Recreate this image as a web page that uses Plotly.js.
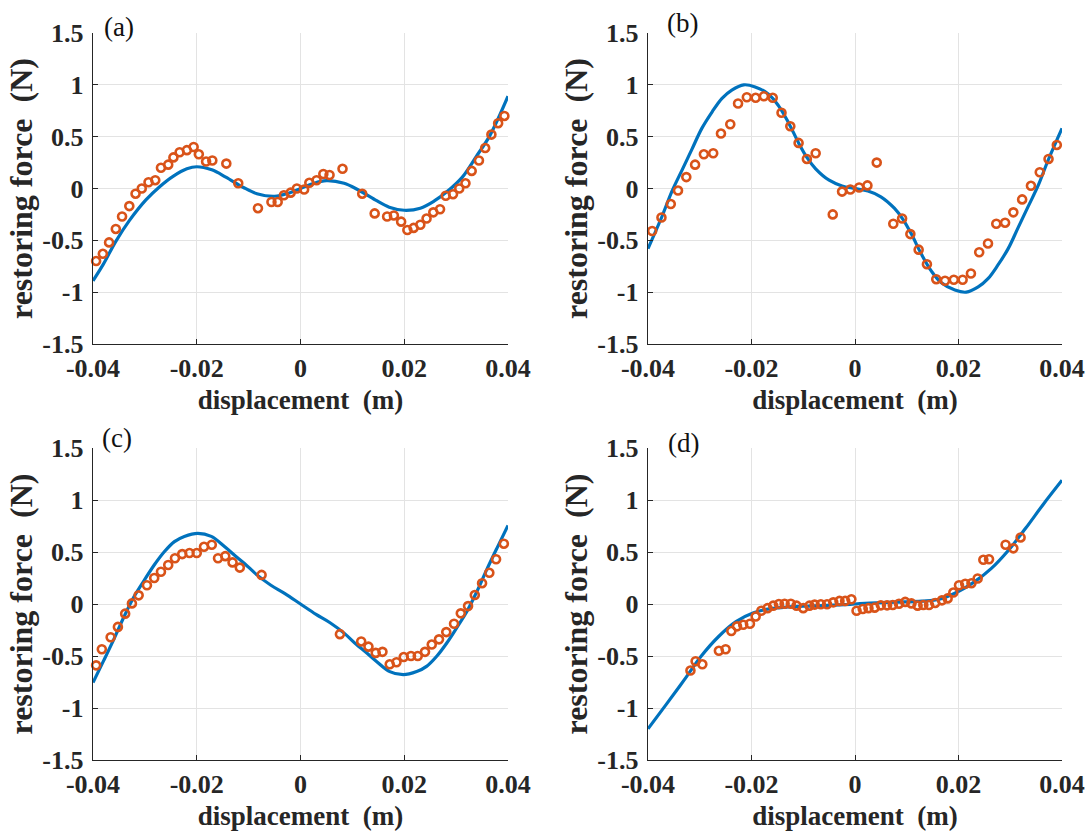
<!DOCTYPE html>
<html>
<head>
<meta charset="utf-8">
<script src="https://cdn.plot.ly/plotly-3.0.1.min.js"></script>
<style>
  html, body { margin: 0; padding: 0; background: #fff; }
  #chart { width: 1090px; height: 836px; }
</style>
</head>
<body>
<div id="chart"></div>
<script>
// ---------------- data ----------------
const xTickVals = [-0.04, -0.02, 0, 0.02, 0.04];
const xTickText = ["-0.04", "-0.02", "0", "0.02", "0.04"];
const yTickVals = [-1.5, -1, -0.5, 0, 0.5, 1, 1.5];
const yTickText = ["-1.5", "-1", "-0.5", "0", "0.5", "1", "1.5"];
const panelLabels = ["(a)", "(b)", "(c)", "(d)"];
const xTitle = "displacement\u00a0 (m)";
const yTitle = "restoring force\u00a0 (N)";

// panel (a)
const aMeasX = [-0.0394,-0.0381,-0.0369,-0.0356,-0.0344,-0.0330,-0.0318,-0.0306,-0.0293,-0.0280,-0.0269,-0.0255,-0.0245,-0.0233,-0.0219,-0.0206,-0.0196,-0.0182,-0.0170,-0.0143,-0.0120,-0.0082,-0.0056,-0.0044,-0.0032,-0.0019,-0.0007,0.0007,0.0017,0.0031,0.0044,0.0056,0.0081,0.0119,0.0143,0.0167,0.0180,0.0194,0.0206,0.0218,0.0231,0.0243,0.0256,0.0269,0.0280,0.0294,0.0306,0.0318,0.0330,0.0344,0.0356,0.0368,0.0381,0.0393];
const aMeasY = [-0.70,-0.63,-0.52,-0.39,-0.27,-0.17,-0.05,0.00,0.06,0.08,0.20,0.23,0.30,0.35,0.37,0.40,0.33,0.26,0.27,0.24,0.05,-0.19,-0.13,-0.13,-0.065,-0.04,0.00,-0.01,0.055,0.08,0.14,0.13,0.19,-0.05,-0.24,-0.27,-0.26,-0.32,-0.40,-0.38,-0.35,-0.29,-0.23,-0.20,-0.07,-0.055,0.00,0.05,0.17,0.27,0.39,0.52,0.63,0.70];
const aFitX = [-0.04,-0.038,-0.0356,-0.033,-0.0298,-0.0271,-0.0245,-0.0219,-0.02,-0.0171,-0.0144,-0.011,-0.0084,-0.005,-0.0023,0,0.0023,0.005,0.0084,0.011,0.0144,0.0171,0.02,0.0231,0.0258,0.0285,0.0312,0.0339,0.0365,0.04];
const aFitY = [-0.89,-0.73,-0.51,-0.31,-0.11,0.02,0.12,0.19,0.21,0.18,0.11,0.01,-0.05,-0.075,-0.045,0.0,0.045,0.075,0.05,-0.01,-0.11,-0.18,-0.21,-0.19,-0.12,-0.02,0.11,0.31,0.51,0.89];

// panel (b)
const bMeasX = [-0.0392,-0.0374,-0.0356,-0.0342,-0.0326,-0.0309,-0.0292,-0.0274,-0.0259,-0.0241,-0.0226,-0.0209,-0.0192,-0.0176,-0.0159,-0.0142,-0.0125,-0.0109,-0.0093,-0.0076,-0.0043,-0.0025,-0.0009,0.0008,0.0024,0.0042,0.0074,0.0091,0.0107,0.0123,0.0139,0.0157,0.0174,0.0191,0.0208,0.0224,0.0240,0.0257,0.0273,0.0290,0.0306,0.0323,0.0340,0.0357,0.0374,0.0390];
const bMeasY = [-0.41,-0.28,-0.15,-0.02,0.11,0.23,0.33,0.34,0.53,0.62,0.82,0.88,0.875,0.89,0.875,0.73,0.60,0.44,0.285,0.34,-0.25,-0.03,-0.01,0.01,0.03,0.25,-0.34,-0.29,-0.44,-0.59,-0.73,-0.875,-0.89,-0.88,-0.88,-0.82,-0.615,-0.53,-0.34,-0.33,-0.23,-0.105,0.026,0.157,0.285,0.42];
const bFitX = [-0.04,-0.0373,-0.0354,-0.0334,-0.0315,-0.0296,-0.0276,-0.0257,-0.0238,-0.0215,-0.0193,-0.0167,-0.0148,-0.0129,-0.0109,-0.0093,-0.0076,-0.005,-0.0025,0,0.0025,0.005,0.0076,0.0093,0.0109,0.0129,0.0148,0.0167,0.0193,0.0215,0.0238,0.0257,0.0276,0.0296,0.0315,0.0334,0.0354,0.0373,0.04];
const bFitY = [-0.58,-0.27,-0.03,0.18,0.38,0.58,0.74,0.87,0.95,1.0,0.98,0.91,0.80,0.64,0.44,0.30,0.19,0.08,0.025,0,-0.025,-0.08,-0.19,-0.30,-0.44,-0.64,-0.80,-0.91,-0.98,-1.0,-0.95,-0.87,-0.74,-0.58,-0.38,-0.18,0.03,0.27,0.58];

// panel (c)
const cMeasX = [-0.0394,-0.0383,-0.0366,-0.0352,-0.0338,-0.0325,-0.0312,-0.0296,-0.0282,-0.0269,-0.0255,-0.0242,-0.0228,-0.0214,-0.0200,-0.0186,-0.0171,-0.0159,-0.0145,-0.0131,-0.0117,-0.0075,0.0076,0.0117,0.0131,0.0145,0.0158,0.0172,0.0185,0.0199,0.0213,0.0226,0.0240,0.0253,0.0267,0.0281,0.0296,0.0309,0.0323,0.0336,0.0350,0.0364,0.0377,0.0392];
const cMeasY = [-0.59,-0.435,-0.32,-0.22,-0.093,0.006,0.083,0.18,0.25,0.31,0.375,0.44,0.48,0.49,0.49,0.55,0.57,0.44,0.46,0.40,0.35,0.28,-0.29,-0.36,-0.41,-0.47,-0.46,-0.58,-0.56,-0.51,-0.50,-0.50,-0.46,-0.39,-0.34,-0.27,-0.19,-0.09,-0.02,0.086,0.20,0.30,0.43,0.58];
const cFitX = [-0.04,-0.0379,-0.0359,-0.034,-0.0321,-0.0301,-0.0282,-0.0263,-0.0243,-0.0224,-0.0198,-0.0172,-0.0146,-0.0125,-0.0108,-0.0084,-0.0057,-0.003,0,0.003,0.0057,0.0084,0.0108,0.0125,0.0146,0.0172,0.0198,0.0224,0.0243,0.0263,0.0282,0.0301,0.0321,0.034,0.0359,0.0379,0.04];
const cFitY = [-0.756,-0.54,-0.33,-0.12,0.07,0.23,0.375,0.50,0.60,0.65,0.68,0.65,0.55,0.46,0.39,0.28,0.18,0.10,0,-0.10,-0.18,-0.28,-0.39,-0.46,-0.55,-0.65,-0.68,-0.65,-0.60,-0.50,-0.375,-0.23,-0.07,0.12,0.33,0.54,0.756];

// panel (d)
const dMeasX = [-0.0318,-0.0308,-0.0295,-0.0263,-0.0250,-0.0239,-0.0228,-0.0216,-0.0203,-0.0192,-0.0181,-0.0169,-0.0158,-0.0147,-0.0136,-0.0124,-0.0113,-0.0100,-0.0088,-0.0078,-0.0066,-0.0054,-0.0042,-0.0030,-0.0019,-0.0007,0.0003,0.0015,0.0026,0.0038,0.0050,0.0062,0.0073,0.0085,0.0097,0.0109,0.0121,0.0132,0.0143,0.0155,0.0168,0.0179,0.0190,0.0201,0.0213,0.0225,0.0237,0.0248,0.0259,0.0291,0.0306,0.0320];
const dMeasY = [-0.64,-0.55,-0.58,-0.45,-0.435,-0.26,-0.215,-0.20,-0.19,-0.12,-0.065,-0.04,-0.016,0.0,0.003,0.003,-0.016,-0.04,-0.016,-0.006,-0.003,-0.003,0.016,0.03,0.03,0.045,-0.065,-0.048,-0.04,-0.035,-0.013,-0.013,-0.01,0.003,0.02,0.006,-0.016,-0.01,-0.01,0.01,0.035,0.054,0.11,0.18,0.195,0.20,0.245,0.425,0.43,0.57,0.535,0.64];
const dFitX = [-0.04,-0.0364,-0.033,-0.0297,-0.0263,-0.023,-0.0196,-0.0163,-0.0129,-0.0096,-0.0062,-0.0029,0,0.0029,0.0062,0.0096,0.0129,0.0163,0.0196,0.023,0.0263,0.0297,0.033,0.0364,0.04];
const dFitY = [-1.20,-0.96,-0.73,-0.50,-0.31,-0.17,-0.085,-0.045,-0.028,-0.02,-0.015,-0.008,0,0.008,0.015,0.02,0.028,0.045,0.11,0.21,0.34,0.52,0.73,0.96,1.19];

// ---------------- styling / build ----------------
const FONT = "Liberation Serif, Times New Roman, serif";
const BLUE = "#0072BD";
const ORANGE = "#D95319";

const panels = [
  {mx: aMeasX, my: aMeasY, fx: aFitX, fy: aFitY},
  {mx: bMeasX, my: bMeasY, fx: bFitX, fy: bFitY},
  {mx: cMeasX, my: cMeasY, fx: cFitX, fy: cFitY},
  {mx: dMeasX, my: dMeasY, fx: dFitX, fy: dFitY}
];

const W = 1090, H = 836;
const px = (v) => v / W;
const py = (v) => 1 - v / H;
const xDomains = [[px(93), px(508)], [px(648), px(1062)], [px(93), px(508)], [px(648), px(1062)]];
const yDomains = [[py(344), py(33)], [py(344), py(33)], [py(760), py(448)], [py(760), py(448)]];

const traces = [];
const layout = {
  width: W, height: H,
  margin: {l: 0, r: 0, t: 0, b: 0},
  paper_bgcolor: "#ffffff",
  plot_bgcolor: "#ffffff",
  showlegend: false,
  annotations: []
};

panels.forEach((p, i) => {
  const n = i === 0 ? "" : String(i + 1);
  const xa = "x" + n, ya = "y" + n;
  traces.push({
    x: p.fx, y: p.fy, xaxis: xa, yaxis: ya,
    type: "scatter", mode: "lines",
    line: {color: BLUE, width: 3.2, shape: "spline", smoothing: 1},
    hoverinfo: "skip"
  });
  traces.push({
    x: p.mx, y: p.my, xaxis: xa, yaxis: ya,
    type: "scatter", mode: "markers",
    marker: {symbol: "circle-open", size: 8, color: ORANGE, line: {color: ORANGE, width: 2.6}},
    cliponaxis: false
  });
  layout["xaxis" + n] = {
    domain: xDomains[i], anchor: ya, range: [-0.04, 0.04],
    tickvals: xTickVals, ticktext: xTickText,
    tickfont: {family: FONT, size: 26, color: "#262626", weight: "bold"},
    ticks: "inside", ticklen: 5, tickcolor: "#262626", tickwidth: 1,
    showline: true, linecolor: "#262626", linewidth: 1.3, mirror: false,
    showgrid: true, gridcolor: "#e3e3e3", gridwidth: 1,
    zeroline: false, fixedrange: true,
    title: {text: xTitle, font: {family: FONT, size: 27, color: "#262626", weight: "bold"}, standoff: 8}
  };
  layout["yaxis" + n] = {
    domain: yDomains[i], anchor: xa, range: [-1.5, 1.5],
    tickvals: yTickVals, ticktext: yTickText,
    tickfont: {family: FONT, size: 26, color: "#262626", weight: "bold"},
    ticks: "inside", ticklen: 5, tickcolor: "#262626", tickwidth: 1,
    ticklabelstandoff: 3,
    showline: true, linecolor: "#262626", linewidth: 1.3, mirror: false,
    showgrid: true, gridcolor: "#e3e3e3", gridwidth: 1,
    zeroline: false, fixedrange: true,
    title: {text: yTitle, font: {family: FONT, size: 32, color: "#262626", weight: "bold"}, standoff: 0}
  };
});

const labelPos = [[103, 27], [666, 23], [101, 438], [667, 443]];
panelLabels.forEach((t, i) => {
  layout.annotations.push({
    text: t, xref: "paper", yref: "paper",
    x: px(labelPos[i][0]), y: py(labelPos[i][1]),
    xanchor: "left", yanchor: "middle", showarrow: false,
    bgcolor: "#ffffff", borderpad: 0,
    font: {family: FONT, size: 27, color: "#111111"}
  });
});

Plotly.newPlot("chart", traces, layout, {displayModeBar: false, staticPlot: true});
</script>
</body>
</html>
